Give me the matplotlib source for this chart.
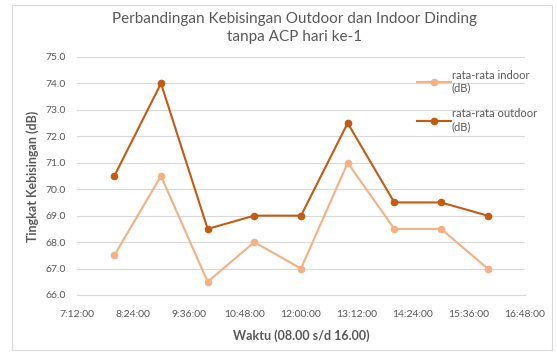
import datetime as dt
import matplotlib
matplotlib.use('Agg')
import matplotlib.pyplot as plt
import matplotlib.dates as mdates

# hourly measurements, day 1
jam = ['08:00', '09:00', '10:00', '11:00', '12:00', '13:00', '14:00', '15:00', '16:00']
indoor = [67.5, 70.5, 66.5, 68.0, 67.0, 71.0, 68.5, 68.5, 67.0]
outdoor = [70.5, 74.0, 68.5, 69.0, 69.0, 72.5, 69.5, 69.5, 69.0]

base = dt.datetime(2020, 1, 1)
waktu = [base + dt.timedelta(hours=int(j[:2]), minutes=int(j[3:])) for j in jam]

plt.rcParams['font.family'] = ['Lato', 'DejaVu Sans']
grey = '#595959'

fig = plt.figure(figsize=(5.57, 3.53), dpi=100)
ax = fig.add_axes([77 / 557, 1 - 295 / 353, 448 / 557, 238 / 353])

ax.plot(waktu, indoor, color='#F4B183', marker='o', markersize=4.5, lw=1.5,
        label='rata-rata indoor\n(dB)')
ax.plot(waktu, outdoor, color='#C55A11', marker='o', markersize=4.5, lw=1.5,
        label='rata-rata outdoor\n(dB)')

x0 = base + dt.timedelta(hours=7, minutes=12)
x1 = base + dt.timedelta(hours=16, minutes=48)
ax.set_xlim(x0, x1)
ticks = [x0 + dt.timedelta(minutes=72 * i) for i in range(9)]
ax.set_xticks(ticks)
ax.xaxis.set_major_formatter(mdates.DateFormatter('%-H:%M:%S'))
ax.set_ylim(66, 75)
ax.set_yticks(range(66, 76))
ax.yaxis.set_major_formatter(matplotlib.ticker.FormatStrFormatter('%.1f'))

ax.grid(axis='y', color='#d9d9d9', lw=0.8)
ax.set_axisbelow(True)
for s in ['top', 'right', 'left']:
    ax.spines[s].set_visible(False)
ax.spines['bottom'].set_color('#d9d9d9')
ax.tick_params(length=0, labelsize=7.5, labelcolor=grey)
ax.tick_params(axis='x', pad=11)
ax.tick_params(axis='y', pad=8)

ax.set_xlabel('Waktu (08.00 s/d 16.00)', fontsize=9, fontweight='bold', color=grey, labelpad=7)
ax.set_ylabel('Tingkat Kebisingan (dB)', fontsize=9, fontweight='bold', color=grey, labelpad=5)

fig.text(295 / 557, 1 - 12 / 353, 'Perbandingan Kebisingan Outdoor dan Indoor Dinding\ntanpa ACP hari ke-1',
         ha='center', va='top', fontsize=11, color=grey, linespacing=1.35)

leg = ax.legend(loc='upper left', bbox_to_anchor=(0.75, 0.965), frameon=False,
                fontsize=8, labelcolor=grey, handlelength=3.0, labelspacing=1.3,
                handletextpad=0.1, borderaxespad=0)

# chart border
fig.patches.append(matplotlib.patches.Rectangle((12 / 557, 3 / 353), 540 / 557, 345 / 353,
                   transform=fig.transFigure, fill=False, ec='#d9d9d9', lw=0.8))

fig.savefig('out.png', dpi=100)
